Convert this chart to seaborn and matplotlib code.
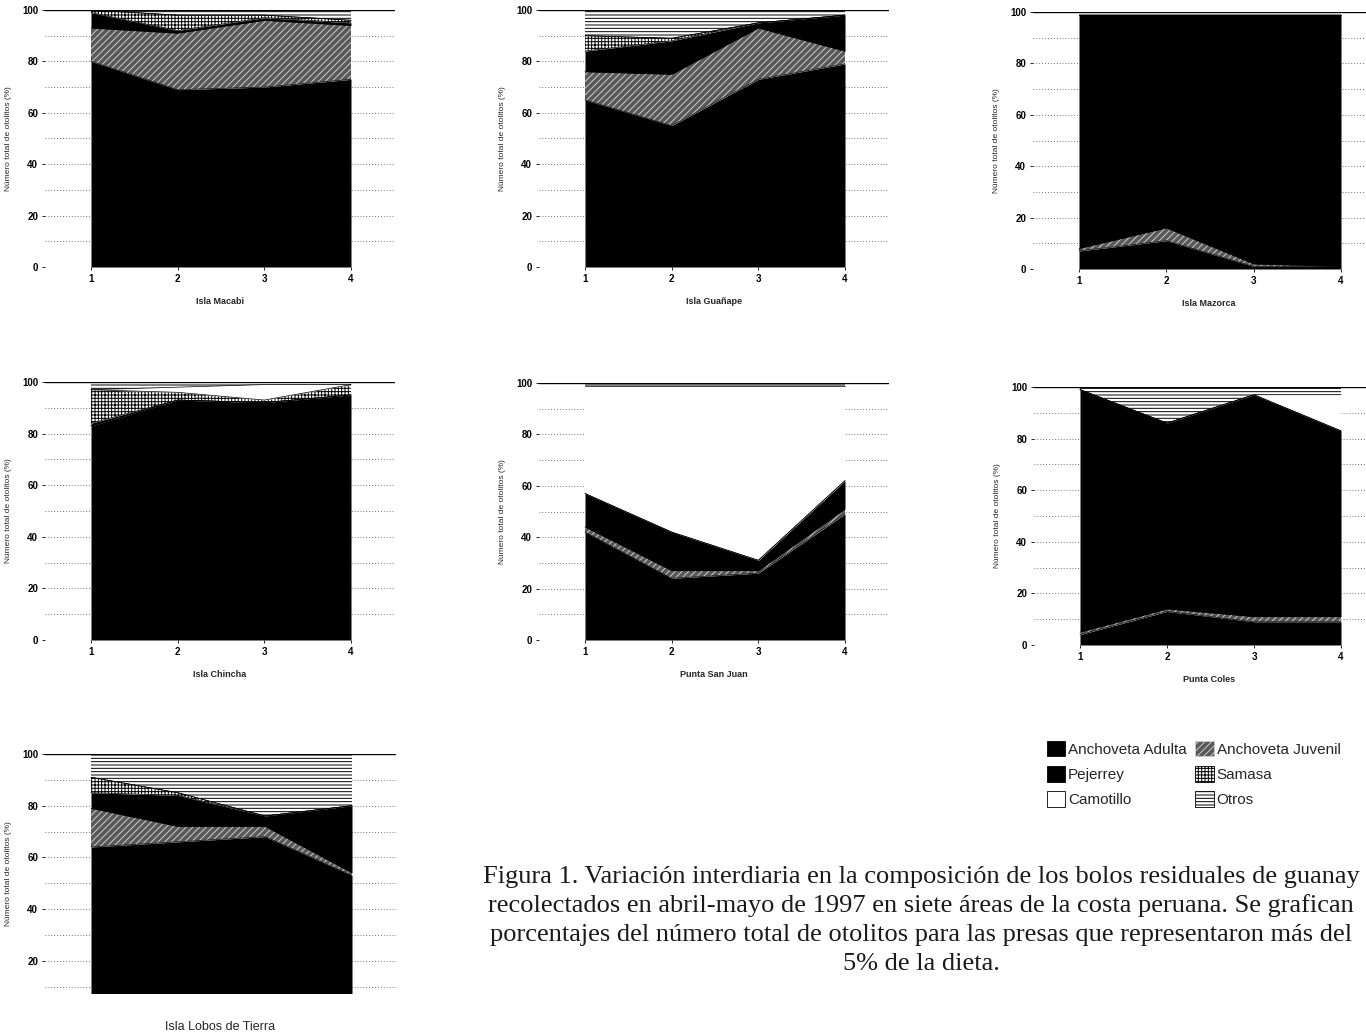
import numpy as np
import matplotlib
matplotlib.use("Agg")
import matplotlib.pyplot as plt
from matplotlib.patches import Patch
import seaborn as sns

sns.set_theme(style="white")
plt.rcParams["font.family"] = ["Liberation Sans", "DejaVu Sans"]
plt.rcParams["hatch.linewidth"] = 0.7

days = [1, 2, 3, 4]
species = ["Anchoveta Adulta", "Anchoveta Juvenil", "Pejerrey",
           "Samasa", "Camotillo", "Otros"]

# % of otoliths per day, rows follow `species`
macabi = [[80, 69, 70, 73],
          [13, 22, 26, 21],
          [6, 1, 1, 1],
          [1, 6, 1, 1],
          [0, 0, 0, 0],
          [0, 2, 2, 4]]
guanape = [[65, 55, 73, 79],
           [11, 20, 20, 5],
           [8, 13, 2, 14],
           [6, 1, 0, 0],
           [0, 0, 0, 0],
           [10, 11, 5, 2]]
mazorca = [[7, 11, 1, 1],
           [1, 5, 1, 0],
           [91, 83, 97, 98],
           [0, 0, 0, 0],
           [0, 0, 0, 0],
           [1, 1, 1, 1]]
chincha = [[83, 93, 92, 95],
           [0, 0, 0, 0],
           [1, 0, 0, 0],
           [13, 3, 1, 4],
           [0, 2, 6, 0],
           [3, 2, 1, 1]]
san_juan = [[42, 24, 26, 49],
            [2, 3, 1, 2],
            [13, 15, 4, 11],
            [0, 0, 0, 0],
            [42, 57, 68, 37],
            [1, 1, 1, 1]]
coles = [[4, 13, 9, 9],
         [1, 1, 2, 2],
         [94, 72, 86, 72],
         [0, 0, 0, 0],
         [0, 0, 0, 14],
         [1, 14, 3, 3]]
lobos = [[64, 66, 68, 53],
         [15, 6, 4, 1],
         [6, 12, 4, 26],
         [6, 1, 0, 0],
         [0, 0, 0, 0],
         [9, 15, 24, 20]]

faces = ["black", "0.35", "black", "white", "white", "white"]
edges = ["black", "0.8", "black", "black", "black", "black"]
hatches = [None, "/////", None, "+++++", None, "-----"]

W, H = 1366, 1033
fig = plt.figure(figsize=(W / 100, H / 100), dpi=100)


def panel(values, name, x1, x4, y_top, y_bot, ymin=0, bold=True, xticks=True):
    left, right = x1 - 46, x4 + 44
    ax = fig.add_axes([left / W, 1 - y_bot / H, (right - left) / W, (y_bot - y_top) / H])
    u = 3 / (x4 - x1)
    ax.set_xlim(1 - 46 * u, 4 + 44 * u)
    ax.set_ylim(ymin, 100)

    for g in range(10, 100, 10):
        ax.axhline(g, color="0.25", lw=0.6, ls=(0, (1, 2.5)), zorder=1)

    cum = np.cumsum(np.array(values, dtype=float), axis=0)
    lower = np.zeros(len(days))
    for i in range(len(species)):
        ax.fill_between(days, lower, cum[i], facecolor=faces[i], edgecolor=edges[i],
                        hatch=hatches[i], lw=0, zorder=2)
        lower = cum[i]
    for i in range(len(species) - 1):
        sns.lineplot(x=days, y=cum[i], color="black", lw=0.5, ax=ax, zorder=3)
    ax.axhline(100, color="black", lw=1.0, zorder=4)

    ax.set_yticks(range(20 if ymin > 0 else 0, 101, 20))
    if xticks:
        ax.set_xticks(days)
    else:
        ax.set_xticks([])
    ax.tick_params(labelsize=7, length=2, width=0.6, pad=3, left=True, bottom=xticks,
                   colors="black")
    for t in ax.get_yticklabels() + ax.get_xticklabels():
        t.set_fontweight("bold")
    sns.despine(ax=ax, left=True, bottom=True)

    ax.set_ylabel("Número total de otolitos (%)", fontsize=6)
    ax.yaxis.set_label_coords(-33 / (right - left), 0.5)
    if bold:
        ax.set_xlabel(name, fontsize=6.5, fontweight="bold")
        ax.xaxis.set_label_coords(0.5, -30 / (y_bot - y_top))
    else:
        ax.set_xlabel(name, fontsize=9)
        ax.xaxis.set_label_coords(0.5, -28 / (y_bot - y_top))
    return ax


panel(macabi, "Isla Macabi", 91, 351, 10, 267)
panel(guanape, "Isla Guañape", 585, 845, 10, 267)
panel(mazorca, "Isla Mazorca", 1079, 1341, 12, 269)
panel(chincha, "Isla Chincha", 91, 351, 382, 640)
panel(san_juan, "Punta San Juan", 585, 845, 383, 640)
panel(coles, "Punta Coles", 1080, 1341, 387, 645)
panel(lobos, "Isla Lobos de Tierra", 91, 352, 754, 993, ymin=7.5, bold=False, xticks=False)

handles = [Patch(facecolor=faces[i], edgecolor=edges[i], hatch=hatches[i], lw=0.6)
           for i in range(len(species))]
order = [0, 2, 4, 1, 3, 5]
fig.legend([handles[i] for i in order], [species[i] for i in order], ncol=2,
           loc="upper left", bbox_to_anchor=(1036 / W, 1 - 730 / H), frameon=False,
           fontsize=11, handlelength=1.2, handleheight=1.2, handletextpad=0.2,
           labelspacing=0.6, columnspacing=0.55, borderpad=0.2)

caption = ["Figura 1. Variación interdiaria en la composición de los bolos residuales de guanay",
           "recolectados en abril-mayo de 1997 en siete áreas de la costa peruana. Se grafican",
           "porcentajes del número total de otolitos para las presas que representaron más del",
           "5% de la dieta."]
for k, line in enumerate(caption):
    fig.text(921 / W, 1 - (877 + 29 * k) / H, line, ha="center", va="center",
             family=["Liberation Serif", "DejaVu Serif"], fontsize=19, color="#1a1a1a")

fig.savefig("out.png", dpi=100)
